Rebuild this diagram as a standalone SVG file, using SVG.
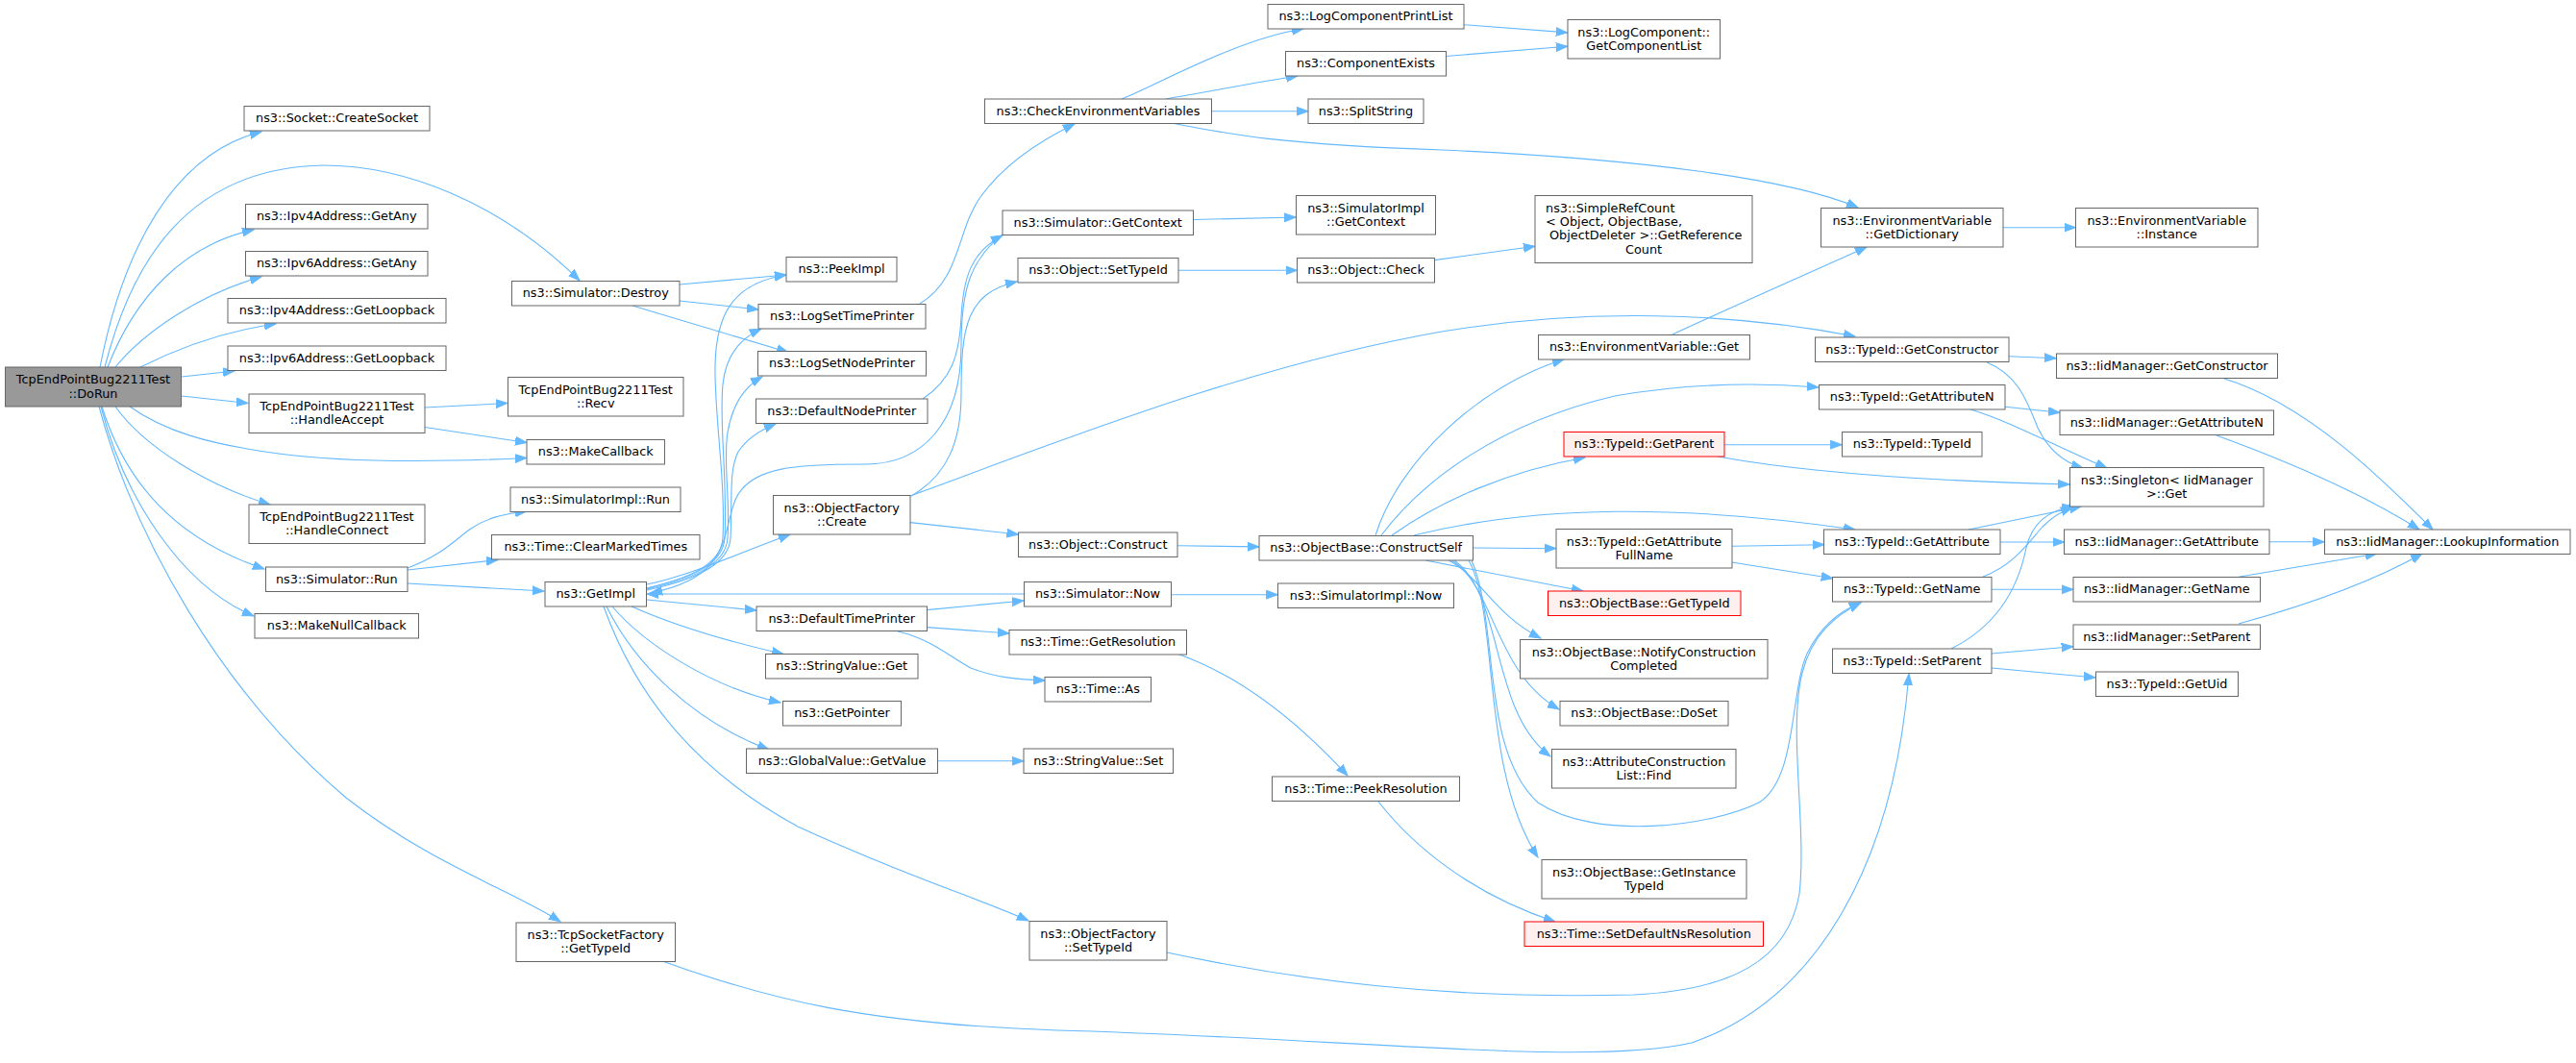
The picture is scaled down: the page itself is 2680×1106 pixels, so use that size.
<svg xmlns="http://www.w3.org/2000/svg" width="2680" height="1106" viewBox="0 0 2680 1106">
<style>
.n rect{fill:#ffffff;stroke:#666666;stroke-width:1}
.root rect{fill:#999999}
.red rect{fill:#fff0f0;stroke:#ff0000}
text{font-family:"DejaVu Sans","Liberation Sans",sans-serif;font-size:12.85px;fill:#000000;text-anchor:middle}
text.l{text-anchor:start}
#edges path{fill:none;stroke:#63b8ff;stroke-width:1.1;marker-end:url(#arr)}
</style>
<defs>
<marker id="arr" markerWidth="13" markerHeight="10" refX="12" refY="5" orient="auto" markerUnits="userSpaceOnUse">
<path d="M0,0.6 L12,5 L0,9.4 z" fill="#63b8ff" stroke="#63b8ff" stroke-width="1"/>
</marker>
</defs>
<rect x="0" y="0" width="2680" height="1106" fill="#ffffff"/>
<g id="edges">
<path d="M104,382 C128,260 180,160 272,137"/>
<path d="M109,382 C135,280 190,175 336,172 C420,172 520,210 603,292"/>
<path d="M112,382 C140,310 190,255 264,239"/>
<path d="M120,382 C150,345 210,305 272,288"/>
<path d="M146,382 C180,365 230,345 287,337"/>
<path d="M189,392 L244,386"/>
<path d="M189,412 L258,419.5"/>
<path d="M135,423 C170,448 215,462 290,472 C350,480 430,482 548,476.5"/>
<path d="M120,423 C150,465 215,505 281,525"/>
<path d="M106,423 C130,500 180,560 275,592"/>
<path d="M105,423 C130,520 190,610 264,641"/>
<path d="M103,423 C140,560 230,720 360,830 C450,900 530,925 583,959"/>
<path d="M442,424 L528,419.5"/>
<path d="M442,444.5 L548,460.5"/>
<path d="M707,296 L818,286"/>
<path d="M707,313 L789,322"/>
<path d="M658,318 L820,366.5"/>
<path d="M424,591 C460,578 475,560 490,550 C505,540 520,535 548,532"/>
<path d="M424,593 L518,582.5"/>
<path d="M424,607 L566,615"/>
<path d="M689,1000 C800,1040 900,1065 1100,1072 C1400,1080 1650,1110 1760,1085 C1890,1040 1970,900 1986,701"/>
<path d="M673,612 C710,603 750,590 752,560 C755,500 743,430 744,380 C745,330 760,295 818,286"/>
<path d="M673,612 C712,603 752,590 754,560 C757,500 748,440 752,400 C755,370 770,352 792,342"/>
<path d="M673,613 C714,604 755,590 757,560 C760,520 752,480 757,450 C762,420 775,402 793,392"/>
<path d="M673,614 C716,605 758,590 760,560 C762,520 758,490 768,470 C778,455 792,447 807,441"/>
<path d="M1043,244 C1010,270 1000,300 1000,360 C1000,440 960,483 900,483 C830,483 780,485 765,520 C750,560 760,600 677,617"/>
<path d="M1065,618 L673,618"/>
<path d="M673,608 C720,598 770,575 822,556"/>
<path d="M673,624 L787,635"/>
<path d="M657,631 C700,650 760,668 815,680.5"/>
<path d="M637,631 C670,670 740,715 812,731"/>
<path d="M631,631 C660,690 720,750 800,780"/>
<path d="M628,631 C660,720 720,800 830,860 C950,915 1020,935 1070,958"/>
<path d="M975.5,791.8 L1065,791.8"/>
<path d="M964,634.6 L1065,625"/>
<path d="M964,652.6 L1050,659"/>
<path d="M934,657 C970,665 990,685 1010,695 C1035,705 1060,707 1087,708"/>
<path d="M1218.7,618.7 L1329.4,618.7"/>
<path d="M1227,681 C1280,700 1340,740 1402,807"/>
<path d="M1434,834 C1470,880 1530,930 1618,959"/>
<path d="M1225,567.8 L1310,568.9"/>
<path d="M947,543.6 L1059.5,556"/>
<path d="M948,516 C985,495 1000,460 1000,410 C1000,340 1005,305 1058,293"/>
<path d="M947,516 C1100,460 1300,380 1500,345 C1650,320 1800,325 1930,350"/>
<path d="M1167,103 C1210,85 1290,40 1356,30"/>
<path d="M1213,103 C1260,95 1310,85 1350,79"/>
<path d="M1260.6,115.7 L1361,115.7"/>
<path d="M1219,128 C1280,140 1330,150 1500,156 C1700,165 1860,185 1933,216"/>
<path d="M2083.9,236.7 L2159.5,236.7"/>
<path d="M1740,348 C1800,320 1880,285 1942,257"/>
<path d="M1522.9,25.7 L1630.8,33.9"/>
<path d="M1504.5,58.5 L1630.8,48.2"/>
<path d="M1241.6,228.5 L1348.4,226"/>
<path d="M1226,281.3 L1349.5,281.3"/>
<path d="M1492.5,270.6 L1597,256.3"/>
<path d="M1431,557 C1455,480 1540,400 1627,374"/>
<path d="M1437,557 C1480,500 1560,440 1680,412 C1760,398 1830,398 1892,403"/>
<path d="M1448,557 C1500,520 1570,490 1649,476"/>
<path d="M1471,557 C1600,525 1750,525 1930,551"/>
<path d="M1532.5,570 L1619,570.7"/>
<path d="M1483,583 L1647,615"/>
<path d="M1507,583 C1540,600 1555,640 1603,664"/>
<path d="M1510,583 C1555,610 1555,700 1622,738"/>
<path d="M1513,583 C1565,620 1550,740 1613,787"/>
<path d="M1528,583 C1560,640 1540,800 1600,892"/>
<path d="M1531,583 C1560,650 1540,780 1600,835 C1660,875 1780,860 1830,835 C1870,810 1862,720 1880,680 C1895,650 1915,635 1936,627"/>
<path d="M1214,991 C1350,1020 1500,1040 1700,1035 C1800,1030 1860,1000 1872,930 C1880,860 1860,760 1875,700 C1885,660 1910,640 1936,627"/>
<path d="M2072,680 L2156.7,672.7"/>
<path d="M2072,695 L2180,705"/>
<path d="M2030,675 C2080,650 2100,610 2108,570 C2115,540 2135,530 2157,527"/>
<path d="M2063,600 C2095,588 2110,565 2125,548 C2135,538 2145,532 2156,528"/>
<path d="M2048,551 L2165,527"/>
<path d="M2080.7,564 L2147.7,564"/>
<path d="M2072,613.3 L2157,613.3"/>
<path d="M1801.7,568.3 L1897.7,566.7"/>
<path d="M1801.7,585 L1906.7,601.7"/>
<path d="M1794,462.7 L1916.3,462.7"/>
<path d="M1787,475 C1870,490 1980,500 2153,504"/>
<path d="M2090,370.7 L2139,372.7"/>
<path d="M2067,377 C2100,390 2110,420 2120,445 C2132,470 2150,482 2167,487"/>
<path d="M2086,423.3 L2143,429.3"/>
<path d="M2050,426 C2090,438 2130,460 2192,487"/>
<path d="M2314,394 C2400,420 2480,500 2531,551"/>
<path d="M2306,453 C2380,480 2460,515 2517,551"/>
<path d="M2360.8,563.8 L2418.3,563.8"/>
<path d="M2329,600.3 L2472.8,576"/>
<path d="M2329,649 C2380,635 2460,610 2520,576"/>
<path d="M957,316 C1000,290 995,240 1020,205 C1045,170 1085,145 1118,129"/>
<path d="M960,415 C990,395 998,370 1000,330 C1002,290 1010,262 1043,245"/>
</g>
<g id="n1" class="n root"><rect x="5.5" y="382" width="183" height="41"/><text x="97" y="399.3">TcpEndPointBug2211Test</text><text x="97" y="413.6">::DoRun</text></g>
<g id="n2" class="n"><rect x="254" y="110.5" width="193" height="25.5"/><text x="350.5" y="127.25">ns3::Socket::CreateSocket</text></g>
<g id="n3" class="n"><rect x="255.5" y="212.5" width="189.5" height="25.5"/><text x="350.25" y="229.25">ns3::Ipv4Address::GetAny</text></g>
<g id="n4" class="n"><rect x="255.5" y="261.5" width="189.5" height="25.5"/><text x="350.25" y="278.25">ns3::Ipv6Address::GetAny</text></g>
<g id="n5" class="n"><rect x="237" y="310.5" width="227" height="25.5"/><text x="350.5" y="327.25">ns3::Ipv4Address::GetLoopback</text></g>
<g id="n6" class="n"><rect x="237" y="360" width="227" height="25.5"/><text x="350.5" y="376.75">ns3::Ipv6Address::GetLoopback</text></g>
<g id="n7" class="n"><rect x="259" y="410" width="183" height="40.5"/><text x="350.5" y="427.05">TcpEndPointBug2211Test</text><text x="350.5" y="441.35">::HandleAccept</text></g>
<g id="n8" class="n"><rect x="259" y="525" width="183" height="40.5"/><text x="350.5" y="542.05">TcpEndPointBug2211Test</text><text x="350.5" y="556.35">::HandleConnect</text></g>
<g id="n9" class="n"><rect x="276.5" y="590" width="147.5" height="25.5"/><text x="350.25" y="606.75">ns3::Simulator::Run</text></g>
<g id="n10" class="n"><rect x="265" y="638.5" width="170.5" height="25.5"/><text x="350.25" y="655.25">ns3::MakeNullCallback</text></g>
<g id="n11" class="n"><rect x="537" y="960" width="165.5" height="40.5"/><text x="619.75" y="977.05">ns3::TcpSocketFactory</text><text x="619.75" y="991.35">::GetTypeId</text></g>
<g id="n12" class="n"><rect x="532.5" y="292.5" width="174.5" height="25.5"/><text x="619.75" y="309.25">ns3::Simulator::Destroy</text></g>
<g id="n13" class="n"><rect x="528.5" y="392.5" width="182.5" height="40.5"/><text x="619.75" y="409.55">TcpEndPointBug2211Test</text><text x="619.75" y="423.85">::Recv</text></g>
<g id="n14" class="n"><rect x="548" y="457.5" width="143.5" height="25.5"/><text x="619.75" y="474.25">ns3::MakeCallback</text></g>
<g id="n15" class="n"><rect x="531" y="507" width="177" height="25.5"/><text x="619.5" y="523.75">ns3::SimulatorImpl::Run</text></g>
<g id="n16" class="n"><rect x="511.5" y="556.5" width="216.5" height="25.5"/><text x="619.75" y="573.25">ns3::Time::ClearMarkedTimes</text></g>
<g id="n17" class="n"><rect x="567" y="605.5" width="105.5" height="25.5"/><text x="619.75" y="622.25">ns3::GetImpl</text></g>
<g id="n18" class="n"><rect x="818" y="267.5" width="115" height="25.5"/><text x="875.5" y="284.25">ns3::PeekImpl</text></g>
<g id="n19" class="n"><rect x="789" y="316.5" width="174" height="25.5"/><text x="876" y="333.25">ns3::LogSetTimePrinter</text></g>
<g id="n20" class="n"><rect x="788.5" y="365.5" width="175" height="25.5"/><text x="876" y="382.25">ns3::LogSetNodePrinter</text></g>
<g id="n21" class="n"><rect x="786.5" y="415" width="178.5" height="25.5"/><text x="875.75" y="431.75">ns3::DefaultNodePrinter</text></g>
<g id="n22" class="n"><rect x="804.5" y="515.5" width="142.5" height="40.5"/><text x="875.75" y="532.55">ns3::ObjectFactory</text><text x="875.75" y="546.85">::Create</text></g>
<g id="n23" class="n"><rect x="787" y="631" width="177.5" height="25.5"/><text x="875.75" y="647.75">ns3::DefaultTimePrinter</text></g>
<g id="n24" class="n"><rect x="796.5" y="680.5" width="158.5" height="25.5"/><text x="875.75" y="697.25">ns3::StringValue::Get</text></g>
<g id="n25" class="n"><rect x="814.5" y="729.5" width="123" height="25.5"/><text x="876" y="746.25">ns3::GetPointer</text></g>
<g id="n26" class="n"><rect x="776.5" y="779" width="199" height="25.5"/><text x="876" y="795.75">ns3::GlobalValue::GetValue</text></g>
<g id="n27" class="n"><rect x="1024.5" y="103" width="236" height="25.5"/><text x="1142.5" y="119.75">ns3::CheckEnvironmentVariables</text></g>
<g id="n28" class="n"><rect x="1043" y="219" width="198.5" height="25.5"/><text x="1142.25" y="235.75">ns3::Simulator::GetContext</text></g>
<g id="n29" class="n"><rect x="1059" y="268.5" width="167" height="25.5"/><text x="1142.5" y="285.25">ns3::Object::SetTypeId</text></g>
<g id="n30" class="n"><rect x="1059.5" y="554" width="165.5" height="25.5"/><text x="1142.25" y="570.75">ns3::Object::Construct</text></g>
<g id="n31" class="n"><rect x="1065.5" y="605.5" width="153" height="25.5"/><text x="1142" y="622.25">ns3::Simulator::Now</text></g>
<g id="n32" class="n"><rect x="1050" y="655.5" width="184.5" height="25.5"/><text x="1142.25" y="672.25">ns3::Time::GetResolution</text></g>
<g id="n33" class="n"><rect x="1087" y="704.5" width="110.5" height="25.5"/><text x="1142.25" y="721.25">ns3::Time::As</text></g>
<g id="n34" class="n"><rect x="1065" y="779" width="155.5" height="25.5"/><text x="1142.75" y="795.75">ns3::StringValue::Set</text></g>
<g id="n35" class="n"><rect x="1071" y="958.5" width="143" height="40.5"/><text x="1142.5" y="975.55">ns3::ObjectFactory</text><text x="1142.5" y="989.85">::SetTypeId</text></g>
<g id="n36" class="n"><rect x="1319" y="4.5" width="204" height="25.5"/><text x="1421" y="21.25">ns3::LogComponentPrintList</text></g>
<g id="n37" class="n"><rect x="1337.5" y="53.5" width="167" height="25.5"/><text x="1421" y="70.25">ns3::ComponentExists</text></g>
<g id="n38" class="n"><rect x="1361" y="103" width="120" height="25.5"/><text x="1421" y="119.75">ns3::SplitString</text></g>
<g id="n39" class="n"><rect x="1348.5" y="203.5" width="145" height="40.5"/><text x="1421" y="220.55">ns3::SimulatorImpl</text><text x="1421" y="234.85">::GetContext</text></g>
<g id="n40" class="n"><rect x="1349.5" y="268.5" width="143" height="25.5"/><text x="1421" y="285.25">ns3::Object::Check</text></g>
<g id="n41" class="n"><rect x="1310" y="557.5" width="222.5" height="25.5"/><text x="1421.25" y="574.25">ns3::ObjectBase::ConstructSelf</text></g>
<g id="n42" class="n"><rect x="1329.5" y="607" width="183" height="25.5"/><text x="1421" y="623.75">ns3::SimulatorImpl::Now</text></g>
<g id="n43" class="n"><rect x="1323.5" y="808" width="195" height="25.5"/><text x="1421" y="824.75">ns3::Time::PeekResolution</text></g>
<g id="n44" class="n"><rect x="1631" y="20.5" width="158.5" height="40.5"/><text x="1710.25" y="37.55">ns3::LogComponent::</text><text x="1710.25" y="51.85">GetComponentList</text></g>
<g id="n45" class="n"><rect x="1597" y="203.5" width="226" height="70"/><text class="l" x="1608" y="220.85">ns3::SimpleRefCount</text><text class="l" x="1608" y="235.15">&lt; Object, ObjectBase,</text><text class="l" x="1612" y="249.45">ObjectDeleter &gt;::GetReference</text><text x="1710" y="263.75">Count</text></g>
<g id="n46" class="n"><rect x="1600.5" y="348.5" width="220" height="25.5"/><text x="1710.5" y="365.25">ns3::EnvironmentVariable::Get</text></g>
<g id="n47" class="n red"><rect x="1627" y="449.5" width="167" height="25.5"/><text x="1710.5" y="466.25">ns3::TypeId::GetParent</text></g>
<g id="n48" class="n"><rect x="1619" y="550.5" width="183" height="40.5"/><text x="1710.5" y="567.55">ns3::TypeId::GetAttribute</text><text x="1710.5" y="581.85">FullName</text></g>
<g id="n49" class="n red"><rect x="1610.5" y="615" width="200.5" height="25.5"/><text x="1710.75" y="631.75">ns3::ObjectBase::GetTypeId</text></g>
<g id="n50" class="n"><rect x="1581.5" y="665.5" width="257.5" height="40.5"/><text x="1710.25" y="682.55">ns3::ObjectBase::NotifyConstruction</text><text x="1710.25" y="696.85">Completed</text></g>
<g id="n51" class="n"><rect x="1623" y="729.5" width="175" height="25.5"/><text x="1710.5" y="746.25">ns3::ObjectBase::DoSet</text></g>
<g id="n52" class="n"><rect x="1614.5" y="779.5" width="191.5" height="40.5"/><text x="1710.25" y="796.55">ns3::AttributeConstruction</text><text x="1710.25" y="810.85">List::Find</text></g>
<g id="n53" class="n"><rect x="1604" y="894.5" width="213" height="40.5"/><text x="1710.5" y="911.55">ns3::ObjectBase::GetInstance</text><text x="1710.5" y="925.85">TypeId</text></g>
<g id="n54" class="n red"><rect x="1586" y="959" width="248.5" height="25.5"/><text x="1710.25" y="975.75">ns3::Time::SetDefaultNsResolution</text></g>
<g id="n55" class="n"><rect x="1894.5" y="216.5" width="189.5" height="40.5"/><text x="1989.25" y="233.55">ns3::EnvironmentVariable</text><text x="1989.25" y="247.85">::GetDictionary</text></g>
<g id="n56" class="n"><rect x="1888.5" y="351" width="201.5" height="25.5"/><text x="1989.25" y="367.75">ns3::TypeId::GetConstructor</text></g>
<g id="n57" class="n"><rect x="1892.5" y="400.5" width="193.5" height="25.5"/><text x="1989.25" y="417.25">ns3::TypeId::GetAttributeN</text></g>
<g id="n58" class="n"><rect x="1916.5" y="449.5" width="145.5" height="25.5"/><text x="1989.25" y="466.25">ns3::TypeId::TypeId</text></g>
<g id="n59" class="n"><rect x="1897.5" y="551" width="183.5" height="25.5"/><text x="1989.25" y="567.75">ns3::TypeId::GetAttribute</text></g>
<g id="n60" class="n"><rect x="1906.5" y="600.5" width="165.5" height="25.5"/><text x="1989.25" y="617.25">ns3::TypeId::GetName</text></g>
<g id="n61" class="n"><rect x="1906.5" y="675" width="165.5" height="25.5"/><text x="1989.25" y="691.75">ns3::TypeId::SetParent</text></g>
<g id="n62" class="n"><rect x="2159.5" y="216.5" width="189.5" height="40.5"/><text x="2254.25" y="233.55">ns3::EnvironmentVariable</text><text x="2254.25" y="247.85">::Instance</text></g>
<g id="n63" class="n"><rect x="2139.5" y="368" width="230" height="25.5"/><text x="2254.5" y="384.75">ns3::IidManager::GetConstructor</text></g>
<g id="n64" class="n"><rect x="2143" y="427" width="222.5" height="25.5"/><text x="2254.25" y="443.75">ns3::IidManager::GetAttributeN</text></g>
<g id="n65" class="n"><rect x="2153.5" y="486.5" width="201.5" height="40.5"/><text x="2254.25" y="503.55">ns3::Singleton&lt; IidManager</text><text x="2254.25" y="517.85">&gt;::Get</text></g>
<g id="n66" class="n"><rect x="2147.5" y="551" width="213.5" height="25.5"/><text x="2254.25" y="567.75">ns3::IidManager::GetAttribute</text></g>
<g id="n67" class="n"><rect x="2157" y="600.5" width="194.5" height="25.5"/><text x="2254.25" y="617.25">ns3::IidManager::GetName</text></g>
<g id="n68" class="n"><rect x="2157" y="650" width="194.5" height="25.5"/><text x="2254.25" y="666.75">ns3::IidManager::SetParent</text></g>
<g id="n69" class="n"><rect x="2180.5" y="699" width="148" height="25.5"/><text x="2254.5" y="715.75">ns3::TypeId::GetUid</text></g>
<g id="n70" class="n"><rect x="2418.5" y="551" width="255.5" height="25.5"/><text x="2546.25" y="567.75">ns3::IidManager::LookupInformation</text></g>
</svg>
